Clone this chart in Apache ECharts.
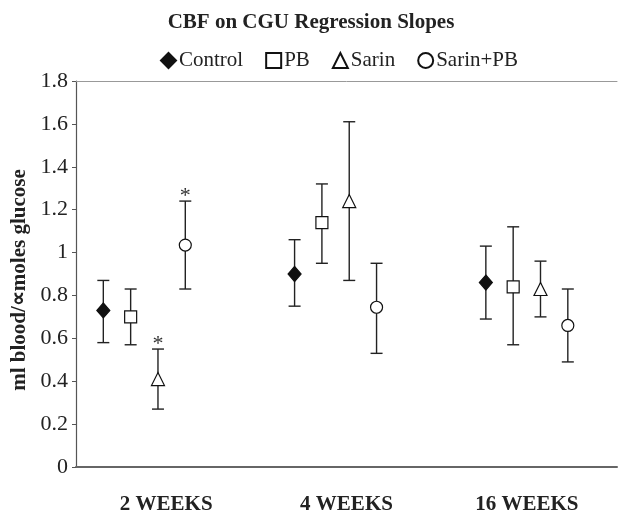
<!DOCTYPE html>
<html>
<head>
<meta charset="utf-8">
<script src="https://cdn.jsdelivr.net/npm/echarts@6/dist/echarts.min.js"></script>
<style>
  html, body { margin: 0; padding: 0; background: #fff; }
  #chart { width: 618px; height: 512px; }
</style>
</head>
<body>
<div id="chart"></div>
<script>
// groups along the bottom
const groups = ['2 WEEKS', '4 WEEKS', '16 WEEKS'];

// mean + error bar ends, one value per group
const controlMean  = [0.73, 0.90, 0.86];
const controlUpper = [0.87, 1.06, 1.03];
const controlLower = [0.58, 0.75, 0.69];

const pbMean  = [0.70, 1.14, 0.84];
const pbUpper = [0.83, 1.32, 1.12];
const pbLower = [0.57, 0.95, 0.57];

const sarinMean  = [0.41, 1.24, 0.83];
const sarinUpper = [0.55, 1.61, 0.96];
const sarinLower = [0.27, 0.87, 0.70];

const sarinPbMean  = [1.035, 0.745, 0.66];
const sarinPbUpper = [1.24, 0.95, 0.83];
const sarinPbLower = [0.83, 0.53, 0.49];

// asterisk above the bar
const sarinSig   = [true, false, false];
const sarinPbSig = [true, false, false];

const yTicks = [0, 0.2, 0.4, 0.6, 0.8, 1, 1.2, 1.4, 1.6, 1.8];

const FONT = 'Liberation Serif';
const INK = '#222';

// x position on the hidden value axis: 7 units per group, 1 unit per series
function xPos(g, k) { return 7 * g + 1 + k; }

const groupsData = [
  { name: 'Control',  mean: controlMean, up: controlUpper, lo: controlLower, sig: null,
    symbol: 'diamond', size: [13, 15], fill: '#111' },
  { name: 'PB',       mean: pbMean, up: pbUpper, lo: pbLower, sig: null,
    symbol: 'rect', size: 12, fill: '#fff' },
  { name: 'Sarin',    mean: sarinMean, up: sarinUpper, lo: sarinLower, sig: sarinSig,
    symbol: 'triangle', size: 13, fill: '#fff' },
  { name: 'Sarin+PB', mean: sarinPbMean, up: sarinPbUpper, lo: sarinPbLower, sig: sarinPbSig,
    symbol: 'circle', size: 12, fill: '#fff' }
];

const series = [];
groupsData.forEach((s, k) => {
  // error bars
  series.push({
    type: 'custom',
    xAxisIndex: 1,
    silent: true,
    z: 1,
    data: groups.map((g, i) => [xPos(i, k), s.lo[i], s.up[i], s.sig && s.sig[i] ? 1 : 0]),
    renderItem: function (params, api) {
      const x = api.value(0);
      const lo = api.coord([x, api.value(1)]);
      const hi = api.coord([x, api.value(2)]);
      const w = 6;
      const style = { stroke: INK, lineWidth: 1.4 };
      const kids = [
        { type: 'line', shape: { x1: lo[0], y1: lo[1], x2: hi[0], y2: hi[1] }, style: style },
        { type: 'line', shape: { x1: lo[0] - w, y1: lo[1], x2: lo[0] + w, y2: lo[1] }, style: style },
        { type: 'line', shape: { x1: hi[0] - w, y1: hi[1], x2: hi[0] + w, y2: hi[1] }, style: style }
      ];
      if (api.value(3)) {
        kids.push({
          type: 'text',
          style: {
            text: '*', x: hi[0], y: hi[1] - 5,
            align: 'center', verticalAlign: 'middle',
            font: '22px "' + FONT + '"', fill: '#333'
          }
        });
      }
      return { type: 'group', children: kids };
    }
  });
  // markers
  series.push({
    name: s.name,
    type: 'scatter',
    xAxisIndex: 1,
    z: 3,
    symbol: s.symbol,
    symbolSize: s.size,
    itemStyle: { color: s.fill, borderColor: '#111', borderWidth: 1.2, opacity: 1 },
    data: groups.map((g, i) => [xPos(i, k), s.mean[i]])
  });
});

const chart = echarts.init(document.getElementById('chart'));
chart.setOption({
  animation: false,
  backgroundColor: '#fff',
  title: {
    text: 'CBF on CGU Regression Slopes',
    left: 311, textAlign: 'center', top: 12, padding: 0,
    textStyle: { fontFamily: FONT, fontSize: 21, fontWeight: 'bold', color: INK }
  },
  legend: {
    data: groupsData.map(s => s.name),
    left: 160, top: 50, padding: 0,
    itemWidth: 15, itemHeight: 15, itemGap: 22,
    textStyle: { fontFamily: FONT, fontSize: 21, color: INK, padding: [0, 0, 0, -2] }
  },
  grid: { left: 76, right: 1, top: 81, bottom: 45, outerBoundsMode: 'none', containLabel: false },
  xAxis: [
    {
      type: 'category',
      data: groups,
      position: 'bottom',
      boundaryGap: true,
      axisLine: { show: true, lineStyle: { color: '#666', width: 2 } },
      axisTick: { show: false },
      axisLabel: { margin: 27, fontFamily: FONT, fontSize: 21, fontWeight: 'bold', color: INK },
      splitLine: { show: false }
    },
    {
      type: 'value',
      min: 0, max: 19.8,
      position: 'top',
      axisLine: { show: true, onZero: false, lineStyle: { color: '#999', width: 1 } },
      axisTick: { show: false },
      axisLabel: { show: false },
      splitLine: { show: false }
    }
  ],
  yAxis: {
    type: 'value',
    min: yTicks[0], max: yTicks[yTicks.length - 1], interval: 0.2,
    name: 'ml blood/\u221Dmoles glucose',
    nameLocation: 'middle', nameGap: 46,
    nameTextStyle: { fontFamily: FONT, fontSize: 21, fontWeight: 'bold', color: INK, padding: [0, 12, 0, 0] },
    axisLine: { show: true, lineStyle: { color: '#555', width: 1.2 } },
    axisTick: { show: true, length: 4, lineStyle: { color: '#555' } },
    axisLabel: { margin: 8, fontFamily: FONT, fontSize: 22, color: INK },
    splitLine: { show: false }
  },
  series: series
});
</script>
</body>
</html>
